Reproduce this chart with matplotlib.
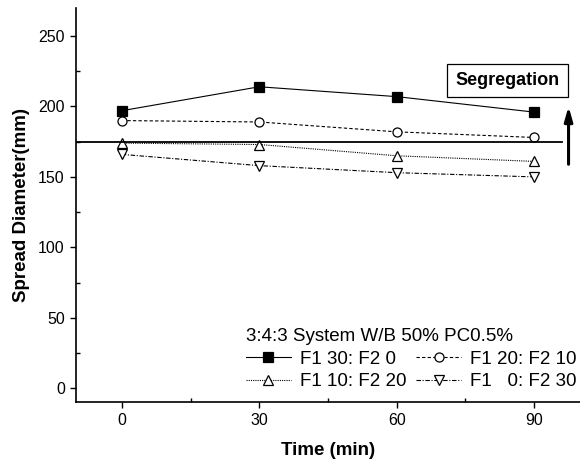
import matplotlib
matplotlib.use("Agg")
import matplotlib.pyplot as plt
from matplotlib.ticker import MultipleLocator

plt.rcParams['font.family'] = ['Liberation Sans', 'DejaVu Sans']

time_min = [0, 30, 60, 90]
f1_30_f2_0 = [197, 214, 207, 196]
f1_20_f2_10 = [190, 189, 182, 178]
f1_10_f2_20 = [174, 173, 165, 161]
f1_0_f2_30 = [166, 158, 153, 150]
labels = ["F1 30: F2 0", "F1 20: F2 10", "F1 10: F2 20", "F1   0: F2 30"]
segregation_limit = 175

fig = plt.figure(figsize=(5.8, 4.65), dpi=100)
ax = fig.add_axes([0.131, 0.135, 0.869, 0.848])

common = dict(color='black', lw=0.8, markersize=6.5, markeredgewidth=0.9)
h1, = ax.plot(time_min, f1_30_f2_0, ls='-', marker='s', markerfacecolor='black',
              label=labels[0], **common)
h2, = ax.plot(time_min, f1_20_f2_10, ls=(0, (3, 2)), marker='o', markerfacecolor='white',
              label=labels[1], **common)
h3, = ax.plot(time_min, f1_10_f2_20, ls=(0, (1, 1)), marker='^', markerfacecolor='white',
              label=labels[2], **common)
h4, = ax.plot(time_min, f1_0_f2_30, ls=(0, (4, 1.5, 1, 1.5)), marker='v', markerfacecolor='white',
              label=labels[3], **common)

# segregation threshold
ax.plot([-10, 96], [segregation_limit, segregation_limit], color='black', lw=1.3)

ax.annotate('', xy=(97.5, 202), xytext=(97.5, 157),
            arrowprops=dict(arrowstyle='-|>,head_width=0.2,head_length=0.7', color='black',
                            lw=2.2, mutation_scale=12))
ax.text(84.2, 218.5, 'Segregation', ha='center', va='center', fontsize=13,
        fontweight='bold',
        bbox=dict(boxstyle='square,pad=0.45', facecolor='white', edgecolor='black', lw=0.9))

ax.set_xlim(-10, 100)
ax.set_ylim(-10, 270)
ax.set_xticks([0, 30, 60, 90])
ax.set_yticks([0, 50, 100, 150, 200, 250])
ax.xaxis.set_minor_locator(MultipleLocator(15))
ax.yaxis.set_minor_locator(MultipleLocator(25))
ax.tick_params(which='major', direction='out', length=4, width=1, labelsize=11.5, pad=4)
ax.tick_params(which='minor', direction='in', length=3, width=1)
ax.spines['top'].set_visible(False)
ax.spines['right'].set_visible(False)
for s in ('left', 'bottom'):
    ax.spines[s].set_linewidth(1.2)

ax.set_xlabel('Time (min)', fontsize=13.5, fontweight='bold', labelpad=10)
ax.set_ylabel('Spread Diameter(mm)', fontsize=13.5, fontweight='bold', labelpad=6)

# two columns, read row by row
order = [0, 2, 1, 3]
handles = [h1, h2, h3, h4]
leg = ax.legend([handles[i] for i in order], [labels[i] for i in order],
                loc='lower left', bbox_to_anchor=(0.337, 0.03), ncol=2, frameon=False,
                title='3:4:3 System W/B 50% PC0.5%', title_fontsize=13.5, fontsize=13.5,
                handlelength=2.4, handletextpad=0.5, columnspacing=0.5,
                labelspacing=0.3, borderpad=0.0, borderaxespad=0.0)
leg._legend_box.align = 'left'

fig.savefig('out.png', dpi=100)
